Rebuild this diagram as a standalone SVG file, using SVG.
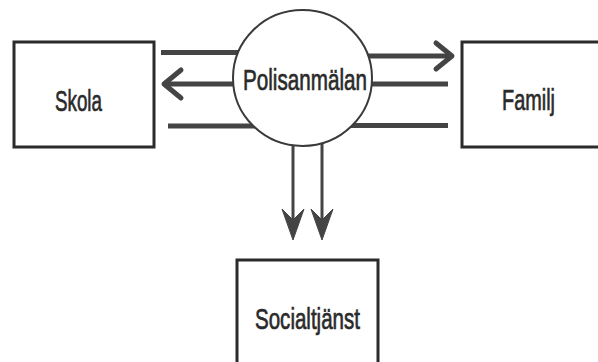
<svg xmlns="http://www.w3.org/2000/svg" width="598" height="362" viewBox="0 0 598 362">
<defs>
<style>
.box{fill:#fff;stroke:#2b2b2b;stroke-width:3}
.circ{fill:#fff;stroke:#3a3a3a;stroke-width:2}
.lbl{font-family:"Liberation Sans",Arial,sans-serif;fill:#2a2a2a;stroke:#2a2a2a;stroke-width:0.7;text-anchor:middle}
.h{stroke:#444;stroke-width:5;fill:none}
.v{stroke:#444;stroke-width:3;fill:none}
.chev{stroke:#444;stroke-width:5;fill:none;stroke-linecap:round;stroke-linejoin:round}
.head{fill:#444;stroke:#444;stroke-width:1;stroke-linejoin:round}
</style>
</defs>
<rect width="598" height="362" fill="#fff"/>
<g id="connectors">
<line class="h" x1="161" y1="52.5" x2="250" y2="52.5"/>
<line class="h" x1="165" y1="84" x2="250" y2="84"/>
<polyline class="chev" points="181,70 164,84 181,98"/>
<line class="h" x1="168" y1="126" x2="260" y2="126"/>
<line class="h" x1="350" y1="56" x2="450" y2="56"/>
<polyline class="chev" points="436,43 452,56 436,69"/>
<line class="h" x1="350" y1="84" x2="448" y2="84"/>
<line class="h" x1="340" y1="125.5" x2="448" y2="125.5"/>
<line class="v" x1="293" y1="140" x2="293" y2="230"/>
<path class="head" d="M293,240 L282,209 L293,220 L304,209 Z"/>
<line class="v" x1="322" y1="140" x2="322" y2="230"/>
<path class="head" d="M322,240 L311,209 L322,220 L333,209 Z"/>
</g>
<g id="skola">
<rect class="box" x="14" y="42" width="140" height="105"/>
<text class="lbl" x="78.5" y="111" font-size="30" textLength="47" lengthAdjust="spacingAndGlyphs">Skola</text>
</g>
<g id="polisanmalan">
<ellipse class="circ" cx="302.5" cy="78" rx="69.5" ry="68"/>
<text class="lbl" x="305" y="90" font-size="30" textLength="124" lengthAdjust="spacingAndGlyphs">Polisanmälan</text>
</g>
<g id="familj">
<rect class="box" x="462" y="42" width="140" height="105"/>
<text class="lbl" x="528.5" y="110" font-size="30" textLength="53" lengthAdjust="spacingAndGlyphs">Familj</text>
</g>
<g id="socialtjanst">
<rect class="box" x="237" y="260" width="141" height="110"/>
<text class="lbl" x="307.5" y="329" font-size="30" textLength="105" lengthAdjust="spacingAndGlyphs">Socialtjänst</text>
</g>
</svg>
